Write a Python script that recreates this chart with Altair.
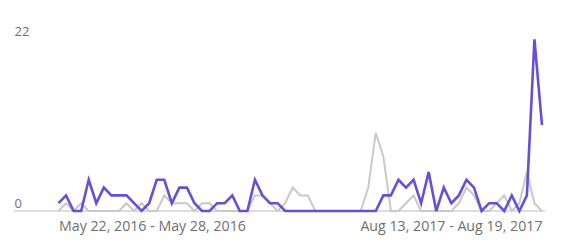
import altair as alt
import pandas as pd

# weekly points, 65 weeks starting week of May 22, 2016
purple = [1, 2, 0, 0, 4, 1, 3, 2, 2, 2, 1, 0, 1, 4, 4, 1, 3, 3, 1, 0, 0, 1, 1, 2, 0, 0, 4, 2, 1, 1, 0,
          0, 0, 0, 0, 0, 0, 0, 0, 0, 0, 0, 0,
          2, 2, 4, 3, 4, 1, 5, 0, 3, 1, 2, 4, 3, 0, 1, 1, 0, 2, 0, 2, 22, 11]
gray = [0, 1, 0, 1, 0, 0, 0, 0, 0, 1, 0, 1,
        0, 0, 2, 1, 1, 1, 0, 1, 1, 0, 0, 0, 0,
        0, 2, 2, 1, 0, 1, 3, 2, 2, 0,
        0, 0, 0, 0, 0, 0,
        3, 10, 7, 0, 0, 1, 2, 0, 0, 0,
        0, 0, 1, 3, 2, 0, 0, 1, 2, 0, 1, 5, 1, 0]
tick_weeks = [0, 64]
tick_labels = ["May 22, 2016 - May 28, 2016", "Aug 13, 2017 - Aug 19, 2017"]
y_ticks = [0, 22]

weeks = list(range(len(purple)))
df = pd.DataFrame({"week": weeks + weeks,
                   "value": gray + purple,
                   "series": ["b"] * len(gray) + ["a"] * len(purple)})

W, H = 483.5, 171.7
FONT = "Open Sans"
label_expr = " : ".join(
    [f"datum.value == {w} ? '{l}'" for w, l in zip(tick_weeks[:-1], tick_labels[:-1])]
    + [f"'{tick_labels[-1]}'"])

y_scale = alt.Scale(domain=[0, 22], nice=False)
x_scale = alt.Scale(domain=[0, 64], nice=False, zero=False)
y_axis = alt.Axis(values=y_ticks, title=None, grid=False, domain=False, ticks=False,
                  labelAlign="left", labelPadding=44.5, labelBaseline="alphabetic",
                  labelOffset=-4, labelFont=FONT, labelFontSize=13,
                  labelColor="#707070")
x_axis = alt.Axis(values=tick_weeks, labelExpr=label_expr, title=None, grid=False,
                  domain=False, ticks=False, labelFlush=True, labelPadding=8,
                  labelLimit=0, labelOverlap=False,
                  labelFont=FONT, labelFontSize=14.2, labelColor="#707070")

x = alt.X("week:Q", scale=x_scale, axis=x_axis)
y = alt.Y("value:Q", scale=y_scale, axis=y_axis)

# baseline extends left under the "0" label
base_df = pd.DataFrame({"x0": [-5.9], "x1": [64.4], "v": [0]})
base_rule = alt.Chart(base_df).mark_rule(color="#d2d2d2", strokeWidth=1.5, clip=False).encode(
    x=alt.X("x0:Q", scale=x_scale, axis=x_axis),
    x2="x1:Q",
    y=alt.Y("v:Q", scale=y_scale, axis=y_axis),
)

lines = alt.Chart(df).mark_line(strokeJoin="miter").encode(
    x=x, y=y,
    color=alt.Color("series:N", scale=alt.Scale(domain=["a", "b"], range=["#6750d6", "#c9c9c9"]),
                    legend=None),
    strokeWidth=alt.StrokeWidth("series:N", scale=alt.Scale(domain=["a", "b"], range=[2.6, 2.0]),
                                legend=None),
    order=alt.Order("week:Q"),
    detail="series:N",
)
gray_line = lines.transform_filter("datum.series == 'b'")
purple_line = lines.transform_filter("datum.series == 'a'")

chart = alt.layer(base_rule, gray_line, purple_line).properties(
    width=W, height=H,
    autosize=alt.AutoSizeParams(type="none"),
    padding={"left": 58.5, "top": 39.3, "right": 21, "bottom": 32},
).configure_view(stroke=None)

chart.save("out.html", embed_options={"renderer": "svg", "actions": False})
